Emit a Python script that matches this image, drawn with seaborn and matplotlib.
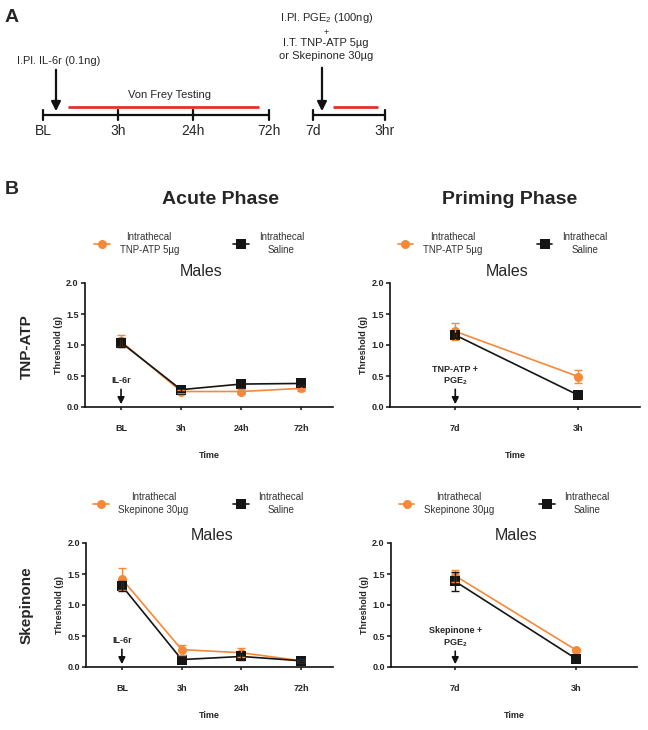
import numpy as np
import pandas as pd
import matplotlib
matplotlib.use('Agg')
import matplotlib.pyplot as plt
import seaborn as sns

sns.set_theme(style='ticks')
plt.rcParams['font.family'] = ['Liberation Sans', 'DejaVu Sans']
plt.rcParams['mathtext.fontset'] = 'custom'
plt.rcParams['mathtext.rm'] = 'Liberation Sans'
plt.rcParams['mathtext.bf'] = 'Liberation Sans:bold'

# ---------------- data ----------------
acute_times = ['BL', '3h', '24h', '72h']
priming_times = ['7d', '3h']

tnp_acute_drug = [1.06, 0.25, 0.25, 0.30]
tnp_acute_drug_err = [0.10, 0.03, 0.04, 0.04]
tnp_acute_saline = [1.04, 0.28, 0.37, 0.38]
tnp_acute_saline_err = [0.08, 0.03, 0.04, 0.04]

tnp_prime_drug = [1.22, 0.49]
tnp_prime_drug_err = [0.14, 0.10]
tnp_prime_saline = [1.16, 0.19]
tnp_prime_saline_err = [0.04, 0.03]

sk_acute_drug = [1.42, 0.28, 0.23, 0.10]
sk_acute_drug_err = [0.18, 0.08, 0.07, 0.02]
sk_acute_saline = [1.31, 0.12, 0.17, 0.10]
sk_acute_saline_err = [0.08, 0.03, 0.05, 0.02]

sk_prime_drug = [1.47, 0.27]
sk_prime_drug_err = [0.10, 0.02]
sk_prime_saline = [1.38, 0.13]
sk_prime_saline_err = [0.16, 0.05]

tnp_label = 'Intrathecal\nTNP-ATP 5\u00b5g'
sk_label = 'Intrathecal\nSkepinone 30\u00b5g'
saline_label = 'Intrathecal\nSaline'

ORANGE = '#F5893A'
BLACK = '#151515'

W, H = 648, 730
fig = plt.figure(figsize=(6.48, 7.30), dpi=100)


def rect(x0, y0, x1, y1):
    return [x0 / W, 1 - y1 / H, (x1 - x0) / W, (y1 - y0) / H]


# ---------------- overlay (panel A + labels) ----------------
ov = fig.add_axes([0, 0, 1, 1])
ov.set_xlim(0, W)
ov.set_ylim(H, 0)
ov.axis('off')

narrow = ['Liberation Sans Narrow', 'Liberation Sans', 'DejaVu Sans']

ov.text(5, 17, 'A', fontsize=14, fontweight='bold', va='center', ha='left')
ov.text(5, 189, 'B', fontsize=14, fontweight='bold', va='center', ha='left')

# timeline 1
tl1_ticks = [43, 118, 193, 269]
tl1_labels = ['BL', '3h', '24h', '72h']
ov.plot([tl1_ticks[0], tl1_ticks[-1]], [115, 115], color='#111', lw=1.6, solid_capstyle='butt')
for xt, lab in zip(tl1_ticks, tl1_labels):
    ov.plot([xt, xt], [110, 120], color='#111', lw=1.6)
    ov.text(xt, 131, lab, ha='center', va='center', fontsize=10, family=narrow)
ov.plot([68, 259], [107, 107], color='#E2322B', lw=2, solid_capstyle='butt')
ov.text(169, 95, 'Von Frey Testing', ha='center', va='center', fontsize=8, family=narrow)
ov.annotate('', xy=(56, 114), xytext=(56, 67),
            arrowprops=dict(arrowstyle='-|>', color='#111', lw=1.6, mutation_scale=14))
ov.text(59, 61, 'I.Pl. IL-6r (0.1ng)', ha='center', va='center', fontsize=8, family=narrow)

# timeline 2
tl2_ticks = [313, 385]
tl2_labels = ['7d', '3hr']
ov.plot([tl2_ticks[0], tl2_ticks[-1]], [115, 115], color='#111', lw=1.6)
for xt, lab in zip(tl2_ticks, tl2_labels):
    ov.plot([xt, xt], [110, 120], color='#111', lw=1.6)
    ov.text(xt, 131, lab, ha='center', va='center', fontsize=10, family=narrow)
ov.plot([333, 378], [107, 107], color='#E2322B', lw=2, solid_capstyle='butt')
ov.annotate('', xy=(322, 114), xytext=(322, 65),
            arrowprops=dict(arrowstyle='-|>', color='#111', lw=1.6, mutation_scale=14))
ov.text(327, 18, 'I.Pl. PGE$_2$ (100ng)', ha='center', va='center', fontsize=8, family=narrow)
ov.text(326, 32, '+', ha='center', va='center', fontsize=6.5, family=narrow)
ov.text(326, 43, 'I.T. TNP-ATP 5\u00b5g', ha='center', va='center', fontsize=8, family=narrow)
ov.text(326, 56, 'or Skepinone 30\u00b5g', ha='center', va='center', fontsize=8, family=narrow)

# phase titles & row labels
ov.text(221, 199, 'Acute Phase', ha='center', va='center', fontsize=14, fontweight='bold')
ov.text(510, 199, 'Priming Phase', ha='center', va='center', fontsize=14, fontweight='bold')
ov.text(27, 347, 'TNP-ATP', ha='center', va='center', fontsize=11, fontweight='bold', rotation=90)
ov.text(27, 605, 'Skepinone', ha='center', va='center', fontsize=11, fontweight='bold', rotation=90)


# ---------------- panels ----------------
def panel(r, times, drug, drug_err, sal, sal_err, drug_label, xlim, title_x, title_pad,
          arrow_text, arrow_text_y, arrow_top, leg_x, colspace):
    ax = fig.add_axes(r)
    pos = np.arange(len(times))
    df = pd.DataFrame({
        'pos': np.concatenate([pos, pos]),
        'Threshold': list(drug) + list(sal),
        'group': [drug_label] * len(times) + [saline_label] * len(times),
    })
    sns.lineplot(data=df, x='pos', y='Threshold', hue='group', style='group',
                 hue_order=[drug_label, saline_label],
                 palette={drug_label: ORANGE, saline_label: BLACK},
                 markers={drug_label: 'o', saline_label: 's'}, dashes=False,
                 markersize=6.5, markeredgewidth=0, lw=1.2, ax=ax, clip_on=False)
    ax.errorbar(pos, drug, yerr=drug_err, fmt='none', ecolor=ORANGE, elinewidth=1,
                capsize=3, capthick=1, clip_on=False, zorder=3)
    ax.errorbar(pos, sal, yerr=sal_err, fmt='none', ecolor=BLACK, elinewidth=1,
                capsize=3, capthick=1, clip_on=False, zorder=3)
    ax.set_xlim(*xlim)
    ax.set_ylim(0, 2.0)
    ax.set_yticks([0, 0.5, 1.0, 1.5, 2.0])
    ax.set_yticklabels(['0.0', '0.5', '1.0', '1.5', '2.0'])
    ax.set_xticks(pos)
    ax.set_xticklabels(times)
    for lab in ax.get_xticklabels() + ax.get_yticklabels():
        lab.set_fontweight('bold')
        lab.set_fontsize(6.5)
    ax.tick_params(axis='y', length=3, width=1.1, pad=1.5, color='#111')
    ax.tick_params(axis='x', length=2, width=1.1, pad=10, color='#111')
    sns.despine(ax=ax)
    for s in ('left', 'bottom'):
        ax.spines[s].set_linewidth(1.2)
        ax.spines[s].set_color('#111')
    ax.set_ylabel('Threshold (g)', fontsize=6.5, fontweight='bold', labelpad=2)
    ax.set_xlabel('Time', fontsize=6.5, fontweight='bold', labelpad=13)
    ax.set_title('Males', fontsize=11.5, x=title_x, pad=title_pad)
    ax.annotate('', xy=(0, 0.0), xytext=(0, arrow_top),
                arrowprops=dict(arrowstyle='-|>', color='#111', lw=1.2, mutation_scale=10))
    ax.text(0, arrow_text_y, arrow_text, ha='center', va='center', fontsize=6.5,
            fontweight='bold', multialignment='center', linespacing=1.3)
    sns.move_legend(ax, 'center', bbox_to_anchor=(leg_x, 1.32), ncol=2, frameon=False,
                    title=None, fontsize=7, handlelength=1.6, handletextpad=1.0,
                    columnspacing=colspace)
    leg = ax.get_legend()
    for t in leg.get_texts():
        t.set_multialignment('center')
        t.set_linespacing(1.35)
        t.set_color('#333')
    return ax


panel(rect(85, 283, 333, 407), acute_times, tnp_acute_drug, tnp_acute_drug_err,
      tnp_acute_saline, tnp_acute_saline_err, tnp_label, (-0.6, 3.53), 0.47, 5,
      'IL-6r', 0.43, 0.33, 0.46, 5.6)
panel(rect(390, 283, 640, 407), priming_times, tnp_prime_drug, tnp_prime_drug_err,
      tnp_prime_saline, tnp_prime_saline_err, tnp_label, (-0.53, 1.5), 0.47, 5,
      'TNP-ATP +\nPGE$_\\mathbf{2}$', 0.50, 0.33, 0.45, 5.6)
panel(rect(86, 543, 333, 667), acute_times, sk_acute_drug, sk_acute_drug_err,
      sk_acute_saline, sk_acute_saline_err, sk_label, (-0.6, 3.53), 0.51, 1,
      'IL-6r', 0.43, 0.33, 0.455, 4.6)
panel(rect(391, 543, 637, 667), priming_times, sk_prime_drug, sk_prime_drug_err,
      sk_prime_saline, sk_prime_saline_err, sk_label, (-0.53, 1.5), 0.51, 1,
      'Skepinone +\nPGE$_\\mathbf{2}$', 0.47, 0.30, 0.46, 4.6)

fig.savefig('out.png', dpi=100)
